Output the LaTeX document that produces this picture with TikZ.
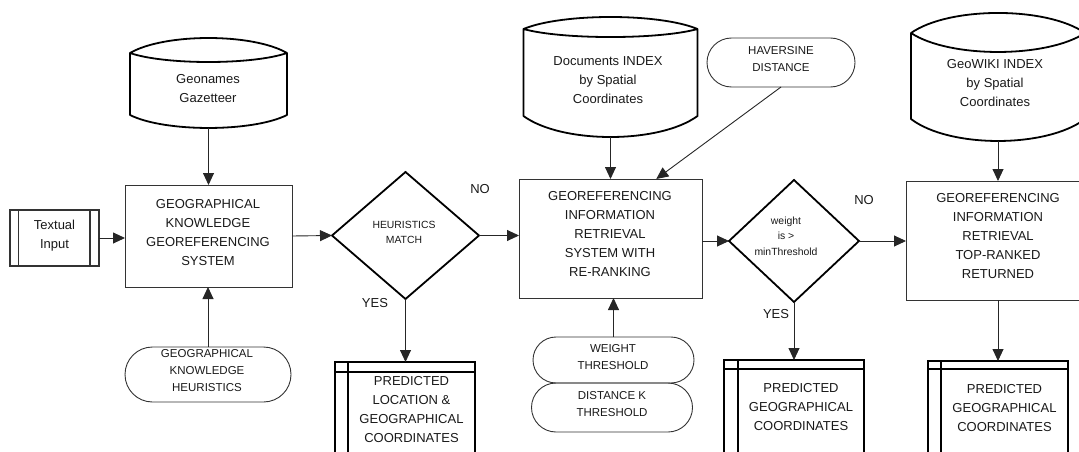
\documentclass[tikz,border=0pt]{standalone}
\usepackage{fontspec}
\setmainfont{Liberation Sans}
\usetikzlibrary{arrows.meta,shapes.geometric,shapes.misc,calc}

% outline of a stored-data drum: left, right, top corners y, top control y,
% lens control y, bottom corners y, bottom control y
\newcommand\drumoutline[7]{%
  \draw[drum] (#1,#3)
    .. controls ({#1+0.22*(#2-#1)},#4) and ({#2-0.22*(#2-#1)},#4) .. (#2,#3)
    .. controls ({#2-0.22*(#2-#1)},#5) and ({#1+0.22*(#2-#1)},#5) .. (#1,#3)
    -- (#1,#6)
    .. controls ({#1+0.22*(#2-#1)},#7) and ({#2-0.22*(#2-#1)},#7) .. (#2,#6)
    -- (#2,#3);}

\begin{document}
\begin{tikzpicture}[x=1pt,y=-1pt,
  thin/.style={draw=black!80,line width=0.9pt},
  proc/.style={rectangle,thin,inner sep=0pt,outer sep=0pt},
  sidebox/.style={rectangle,draw=black!80,line width=1.1pt,inner sep=0pt,outer sep=0pt},
  term/.style={rounded rectangle,thin,inner sep=0pt,outer sep=0pt},
  decide/.style={diamond,draw=black,line width=1.8pt,inner sep=0pt,outer sep=0pt},
  store/.style={rectangle,inner sep=0pt,outer sep=0pt},
  drum/.style={draw=black,line width=1.8pt,line join=round},
  result/.style={rectangle,draw=black,line width=1.8pt,inner sep=0pt,outer sep=0pt},
  resultline/.style={draw=black,line width=1.8pt},
  bigtxt/.style={font=\fontsize{13}{19}\selectfont,align=center,text=black!90,inner sep=0pt},
  midtxt/.style={font=\fontsize{11.5}{17}\selectfont,align=center,text=black!90,inner sep=0pt},
  smalltxt/.style={font=\fontsize{10.4}{15.5}\selectfont,align=center,text=black!90,inner sep=0pt},
  flow/.style={draw=black!85,line width=0.9pt,-{Triangle[length=12pt,width=11pt]}}]

\useasboundingbox (0,0) rectangle (1079,452);

% ---------- shapes ----------
\node[sidebox,minimum width=89,minimum height=56] (input) at (54.5,238) {};
\draw[sidebox] ($(input.north west)+(8.5,0)$) -- ($(input.south west)+(8.5,0)$);
\draw[sidebox] ($(input.north east)+(-9,0)$) -- ($(input.south east)+(-9,0)$);

\node[store,minimum width=157,minimum height=90] (geo) at (208.5,83) {};
\drumoutline{130}{287}{53}{33}{65}{115}{132.3}

\node[proc,minimum width=167,minimum height=102] (gkgs) at (208.5,236) {};
\node[term,minimum width=166,minimum height=55] (heur) at (208,374.5) {};

\node[decide,minimum width=147,minimum height=127] (d1) at (405.5,235.5) {};

\node[store,minimum width=174,minimum height=120] (doc) at (610.5,77) {};
\drumoutline{523.5}{697.5}{29}{13}{39.7}{116}{144}

\node[proc,minimum width=183,minimum height=119] (box2) at (610.5,238.5) {};
\node[term,minimum width=148,minimum height=49] (hav) at (781,62.5) {};
\node[term,minimum width=161,minimum height=46] (wt) at (613.5,360) {};
\node[term,minimum width=161,minimum height=49] (dist) at (612,407.5) {};

\node[decide,minimum width=130,minimum height=122] (d2) at (794,241) {};

\node[store,minimum width=174,minimum height=128] (wiki) at (998,77) {};
\drumoutline{911}{1085}{33}{6.3}{58.3}{119}{148.3}

\node[proc,minimum width=184,minimum height=119] (box3) at (998,240.5) {};

\node[result,minimum width=140,minimum height=118] (pred1) at (405,421) {};
\draw[resultline] ($(pred1.north west)+(0,10)$) -- ($(pred1.north east)+(0,10)$);
\draw[resultline] ($(pred1.north west)+(13,0)$) -- ($(pred1.south west)+(13,0)$);

\node[result,minimum width=140,minimum height=120] (pred2) at (794,420) {};
\draw[resultline] ($(pred2.north west)+(0,9)$) -- ($(pred2.north east)+(0,9)$);
\draw[resultline] ($(pred2.north west)+(14,0)$) -- ($(pred2.south west)+(14,0)$);

\node[result,minimum width=140,minimum height=119] (pred3) at (998,420.5) {};
\draw[resultline] ($(pred3.north west)+(0,8)$) -- ($(pred3.north east)+(0,8)$);
\draw[resultline] ($(pred3.north west)+(13,0)$) -- ($(pred3.south west)+(13,0)$);

% ---------- texts ----------
\node[bigtxt] (input-t) at (54.5,236) {Textual\\Input};
\node[bigtxt] (geo-t) at (208,88.5) {Geonames\\Gazetteer};
\node[bigtxt] (gkgs-t) at (208,232.5) {GEOGRAPHICAL\\KNOWLEDGE\\GEOREFERENCING\\SYSTEM};
\node[midtxt] (heur-t) at (207,371) {GEOGRAPHICAL\\KNOWLEDGE\\HEURISTICS};
\node[smalltxt] (d1-t) at (404,232.5) {HEURISTICS\\MATCH};
\node[bigtxt] (doc-t) at (608,80) {Documents INDEX\\by Spatial\\Coordinates};
\node[midtxt] (hav-t) at (781,59.5) {HAVERSINE\\DISTANCE};
\node[bigtxt] (box2-t) at (610,234.5) {GEOREFERENCING\\INFORMATION\\RETRIEVAL\\SYSTEM WITH\\RE-RANKING};
\node[midtxt] (wt-t) at (613,357) {WEIGHT\\THRESHOLD};
\node[midtxt] (dist-t) at (612,404.5) {DISTANCE K\\THRESHOLD};
\node[bigtxt] (pred1-t) at (411.5,410) {PREDICTED\\LOCATION \&\\GEOGRAPHICAL\\COORDINATES};
\node[smalltxt] (d2-t) at (786,236) {weight\\is >\\minThreshold};
\node[bigtxt] (wiki-t) at (995,83) {GeoWIKI INDEX\\by Spatial\\Coordinates};
\node[bigtxt] (box3-t) at (998,236.5) {GEOREFERENCING\\INFORMATION\\RETRIEVAL\\TOP-RANKED\\RETURNED};
\node[bigtxt] (pred2-t) at (801,407) {PREDICTED\\GEOGRAPHICAL\\COORDINATES};
\node[bigtxt] (pred3-t) at (1004.5,408) {PREDICTED\\GEOGRAPHICAL\\COORDINATES};

\node[bigtxt] (no1) at (480,189) {NO};
\node[bigtxt] (yes1) at (375,303) {YES};
\node[bigtxt] (no2) at (864,200) {NO};
\node[bigtxt] (yes2) at (776,314) {YES};

% ---------- connectors ----------
\draw[flow] (input.east) -- (input.east -| gkgs.west);
\draw[flow] (geo.south) -- (gkgs.north);
\draw[flow] (heur.north) -- (heur.north |- gkgs.south);
\draw[flow] (gkgs.east) -- (d1.west);
\draw[flow] (d1.east) -- (d1.east -| box2.west);
\draw[flow] (d1.south) -- (d1.south |- pred1.north);
\draw[flow] (doc.south) -- (box2.north);
\draw[flow] (hav.south) -- ($(box2.north)!0.5!(box2.north east)$);
\draw[flow] (wt.north) -- (wt.north |- box2.south);
\draw[flow] (box2.east |- d2.west) -- (d2.west);
\draw[flow] (d2.east) -- (d2.east -| box3.west);
\draw[flow] (d2.south) -- (d2.south |- pred2.north);
\draw[flow] (wiki.south) -- (box3.north);
\draw[flow] (box3.south) -- (box3.south |- pred3.north);
\end{tikzpicture}
\end{document}
